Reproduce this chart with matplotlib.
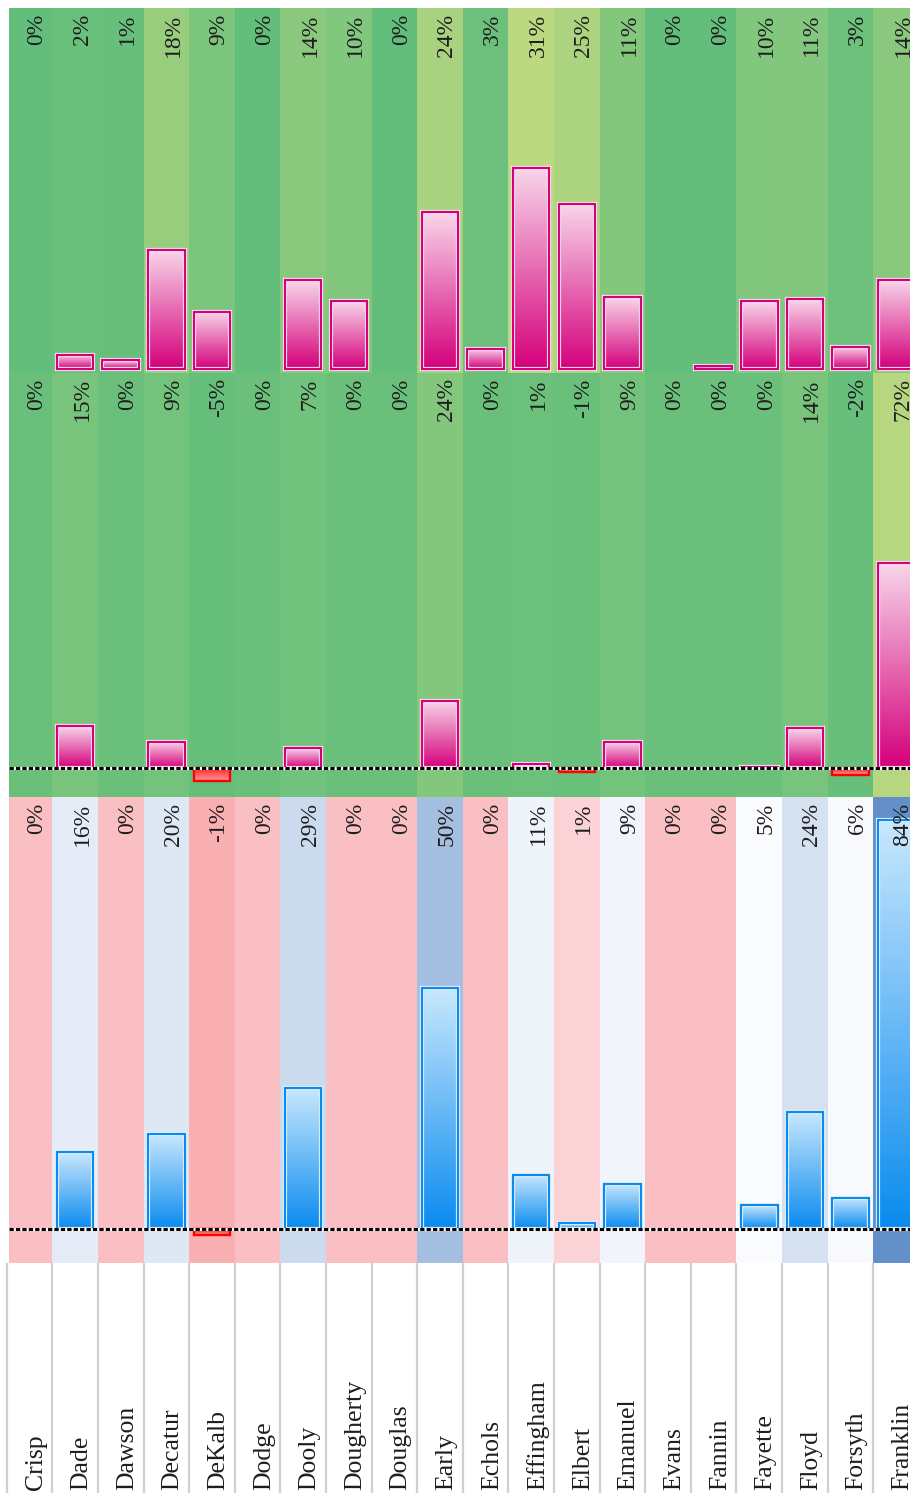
import numpy as np
import matplotlib
matplotlib.use("Agg")
import matplotlib.pyplot as plt
import matplotlib.patheffects as pe
from matplotlib.patches import Rectangle
from matplotlib.colors import LinearSegmentedColormap, Normalize, TwoSlopeNorm

counties = ["Crisp", "Dade", "Dawson", "Decatur", "DeKalb", "Dodge", "Dooly",
            "Dougherty", "Douglas", "Early", "Echols", "Effingham", "Elbert",
            "Emanuel", "Evans", "Fannin", "Fayette", "Floyd", "Forsyth", "Franklin"]

# three rows of percentages, top to bottom
top_vals = [0.0, 2.2, 1.3, 18.3, 8.8, 0.0, 13.6, 10.4, 0.0, 24.0,
            3.1, 30.8, 25.3, 11.0, 0.0, 0.4, 10.4, 10.7, 3.4, 13.7]
mid_vals = [0.0, 14.7, 0.0, 9.2, -4.6, 0.0, 7.0, 0.0, 0.0, 23.6,
            0.0, 1.4, -1.4, 9.2, 0.0, 0.0, 0.4, 14.0, -2.4, 72.0]
bot_vals = [0.0, 15.8, 0.0, 19.6, -1.1, 0.0, 29.0, 0.0, 0.0, 49.6,
            0.0, 11.1, 1.2, 9.4, 0.0, 0.0, 4.9, 24.1, 6.4, 84.0]

W, H = 910, 1493
FONT = "Liberation Serif"
TXT = "#1E1E1E"

fig = plt.figure(figsize=(W / 100, H / 100), dpi=100)


def box(top, bottom, left=9, right=910):
    return [left / W, 1 - bottom / H, (right - left) / W, (bottom - top) / H]


col0, colw = 6.7, 45.61
def xdata(px):
    return -0.5 + (px - col0) / colw


green = LinearSegmentedColormap.from_list("gy", ["#63BE7B", "#FFEB84"])
rwb = LinearSegmentedColormap.from_list("rwb", ["#F8696B", "#FCFCFF", "#5A8AC6"])

magenta = ("#D5007B", "#D5007B", "#F8D6EA")   # edge, dark, light
blue = ("#0A8BEF", "#0A8BEF", "#C9E8FD")
red = ("#FF0000", "#FF1A1A", "#FF9A9A")


def grad_bar(ax, x, v, style, w=0.8):
    edge, dark, light = style
    rect = Rectangle((x - w / 2, 0), w, v, facecolor="none", edgecolor=edge,
                     lw=1.7, zorder=3)
    if v > 0:
        rect.set_path_effects([pe.Stroke(linewidth=3.0, foreground="white"), pe.Normal()])
    ax.add_patch(rect)
    cm = LinearSegmentedColormap.from_list("g", [dark, light])
    grad = np.linspace(0, 1, 128).reshape(-1, 1)
    im = ax.imshow(grad, cmap=cm, extent=(x - w / 2, x + w / 2, 0, v),
                   origin="lower", aspect="auto", zorder=2, interpolation="bilinear")
    im.set_clip_path(rect)


def panel(rect, vals, ylim, cmap, norm, pos_style, baseline):
    ax = fig.add_axes(rect)
    for i, v in enumerate(vals):
        ax.axvspan(i - 0.5, i + 0.5, color=cmap(norm(v)), lw=0, zorder=0)
        if abs(v) > 0.05:
            grad_bar(ax, i, v, pos_style if v > 0 else red)
        ax.annotate(f"{round(v)}%", xy=(i, 1), xycoords=("data", "axes fraction"),
                    xytext=(5, -4), textcoords="offset points", rotation=90,
                    ha="center", va="top", fontsize=17, family=FONT,
                    color=TXT, zorder=6)
    if baseline:
        ax.axhline(0, color="white", lw=2.2, zorder=4)
        ax.axhline(0, color="black", lw=2.2, ls=(0, (1.4, 0.7)), zorder=5)
    ax.set_xlim(xdata(9), xdata(910))
    ax.set_ylim(*ylim)
    ax.axis("off")
    return ax


panel(box(8, 372.7), top_vals, (-0.57, 55.3), green, Normalize(0, 54), magenta, False)
panel(box(372.7, 797.3), mid_vals, (-10.15, 138.5), green, Normalize(-6.7, 141.7), magenta, True)
panel(box(797.3, 1262.7), bot_vals, (-6.85, 88.65), rwb,
      TwoSlopeNorm(vcenter=4, vmin=-5.8, vmax=89), blue, True)

# county name strip
axl = fig.add_axes(box(1262.7, 1493, left=0))
for i in range(len(counties) + 1):
    axl.axvline(i - 0.5, color="#D0D0D0", lw=1.6)
for i, name in enumerate(counties):
    axl.annotate(name, xy=(i, 0), xycoords=("data", "axes fraction"),
                 xytext=(4.5, 2), textcoords="offset points", rotation=90,
                 ha="center", va="bottom", fontsize=18.5, family=FONT, color=TXT)
axl.set_xlim(xdata(0), xdata(910))
axl.set_ylim(0, 1)
axl.axis("off")

fig.savefig("out.png", dpi=100)
